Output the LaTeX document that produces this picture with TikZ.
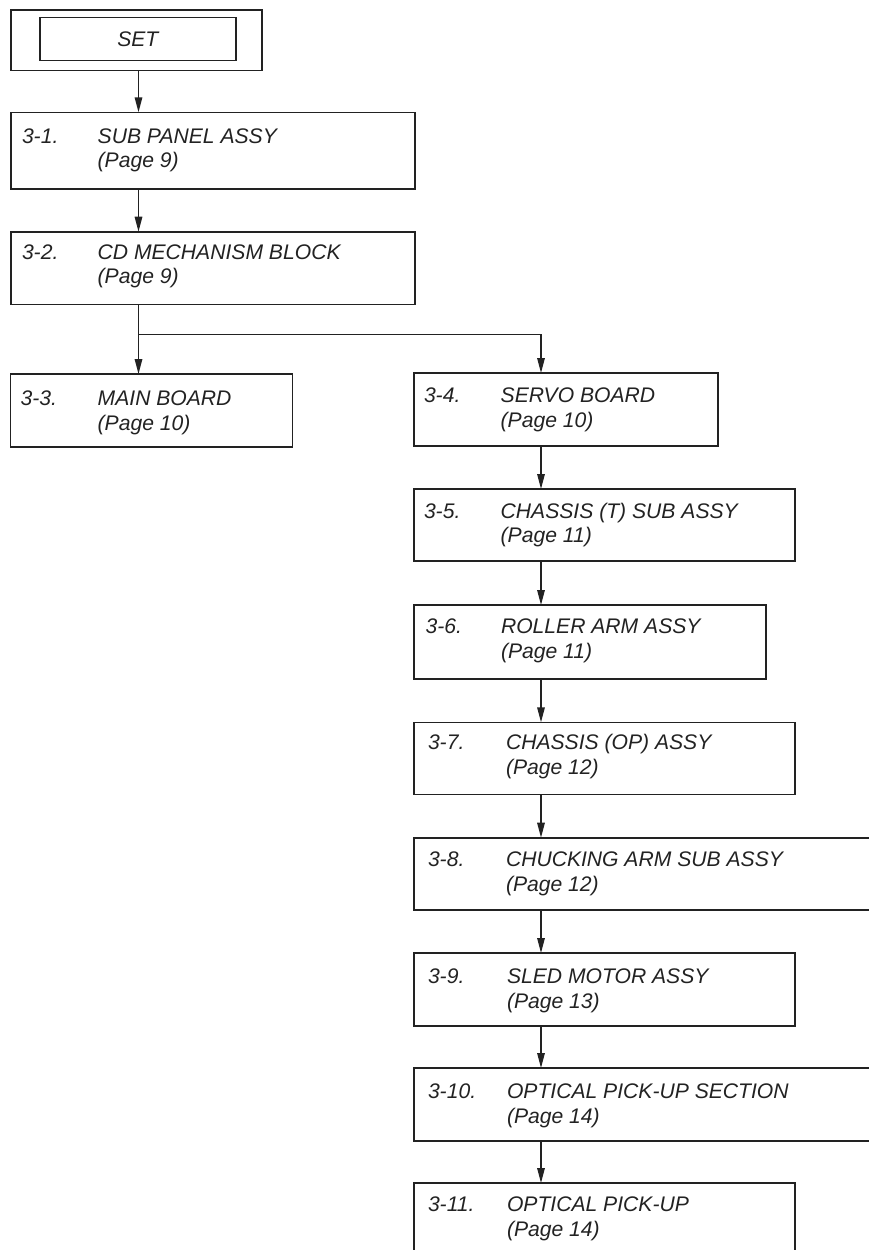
\documentclass[tikz,border=0pt]{standalone}
\usepackage{fontspec}
\setmainfont{Liberation Sans}
\usetikzlibrary{arrows.meta}
\definecolor{ink}{HTML}{222222}
\tikzset{
  boxnode/.style={draw=ink, line width=1.6bp, rectangle, inner sep=0pt, outer sep=0pt, anchor=north west},
  txt/.style={anchor=base west, inner sep=0pt, outer sep=0pt, text=ink, font=\fontsize{21.2}{24}\selectfont\itshape},
  arr/.style={draw=ink, line width=1.5bp, -{Triangle[length=15bp, width=7.5bp]}},
}
\begin{document}
\begin{tikzpicture}[x=1bp, y=-1bp]
\useasboundingbox (0,0) rectangle (869,1250);
\clip (0,0) rectangle (869,1250);
\coordinate (lp) at (138.5,0);
\coordinate (sp) at (541,0);
% boxes
\node[boxnode, minimum width=251bp, minimum height=60.6bp] (set) at (10.7,9.7) {};
\node[boxnode, minimum width=195.7bp, minimum height=43bp] (setin) at (40,17.3) {};
\node[boxnode, minimum width=404.3bp, minimum height=76.4bp] (b1) at (10.7,112.3) {};
\node[boxnode, minimum width=404.3bp, minimum height=72.6bp] (b2) at (10.7,231.7) {};
\node[boxnode, minimum width=282bp, minimum height=72.7bp] (b3) at (10.3,374) {};
\node[boxnode, minimum width=304bp, minimum height=73bp] (b4) at (414,373) {};
\node[boxnode, minimum width=381bp, minimum height=71.7bp] (b5) at (414,489) {};
\node[boxnode, minimum width=351.7bp, minimum height=73.7bp] (b6) at (414,605) {};
\node[boxnode, minimum width=381bp, minimum height=72bp] (b7) at (414,722.3) {};
\node[boxnode, minimum width=470bp, minimum height=72.3bp] (b8) at (414,837.7) {};
\node[boxnode, minimum width=381bp, minimum height=73bp] (b9) at (414,953) {};
\node[boxnode, minimum width=470bp, minimum height=73bp] (b10) at (414,1068) {};
\node[boxnode, minimum width=381bp, minimum height=90bp] (b11) at (414,1183) {};
% texts
\node[inner sep=0pt, text=ink, font=\fontsize{21.2}{24}\selectfont\itshape] (settxt) at (setin.center) {SET};
\node[txt] (n1) at (22,143.3) {3-1.};
\node[txt] (t1) at (97.7,143.3) {SUB PANEL ASSY};
\node[txt] (p1) at (97.7,167.8) {(Page 9)};
\node[txt] (n2) at (22,259.3) {3-2.};
\node[txt] (t2) at (97.7,259.3) {CD MECHANISM BLOCK};
\node[txt] (p2) at (97.7,283.8) {(Page 9)};
\node[txt] (n3) at (20.7,405.7) {3-3.};
\node[txt] (t3) at (97.7,405.7) {MAIN BOARD};
\node[txt] (p3) at (97.7,430.2) {(Page 10)};
\node[txt] (n4) at (424,402.7) {3-4.};
\node[txt] (t4) at (500.7,402.7) {SERVO BOARD};
\node[txt] (p4) at (500.7,427.2) {(Page 10)};
\node[txt] (n5) at (424,518) {3-5.};
\node[txt] (t5) at (500.7,518) {CHASSIS (T) SUB ASSY};
\node[txt] (p5) at (500.7,542.5) {(Page 11)};
\node[txt] (n6) at (425.7,633.3) {3-6.};
\node[txt] (t6) at (501,633.3) {ROLLER ARM ASSY};
\node[txt] (p6) at (501,658.3) {(Page 11)};
\node[txt] (n7) at (428,749.3) {3-7.};
\node[txt] (t7) at (506,749.3) {CHASSIS (OP) ASSY};
\node[txt] (p7) at (506,774.3) {(Page 12)};
\node[txt] (n8) at (428,866) {3-8.};
\node[txt] (t8) at (506,866) {CHUCKING ARM SUB ASSY};
\node[txt] (p8) at (506,891) {(Page 12)};
\node[txt] (n9) at (428,983) {3-9.};
\node[txt] (t9) at (507,983) {SLED MOTOR ASSY};
\node[txt] (p9) at (507,1008) {(Page 13)};
\node[txt] (n10) at (428,1098) {3-10.};
\node[txt] (t10) at (507,1098) {OPTICAL PICK-UP SECTION};
\node[txt] (p10) at (507,1123) {(Page 14)};
\node[txt] (n11) at (428,1211.7) {3-11.};
\node[txt] (t11) at (507,1211.7) {OPTICAL PICK-UP};
\node[txt] (p11) at (507,1236.7) {(Page 14)};
% connectors
\coordinate (j) at (138.5,334.5);
\draw[arr] (set.south -| lp) -- (b1.north -| lp);
\draw[arr] (b1.south -| lp) -- (b2.north -| lp);
\draw[arr] (b2.south -| lp) -- (b3.north -| lp);
\draw[arr] (j) -- (j -| sp) -- (b4.north -| sp);
\draw[arr] (b4.south -| sp) -- (b5.north -| sp);
\draw[arr] (b5.south -| sp) -- (b6.north -| sp);
\draw[arr] (b6.south -| sp) -- (b7.north -| sp);
\draw[arr] (b7.south -| sp) -- (b8.north -| sp);
\draw[arr] (b8.south -| sp) -- (b9.north -| sp);
\draw[arr] (b9.south -| sp) -- (b10.north -| sp);
\draw[arr] (b10.south -| sp) -- (b11.north -| sp);
\end{tikzpicture}
\end{document}
